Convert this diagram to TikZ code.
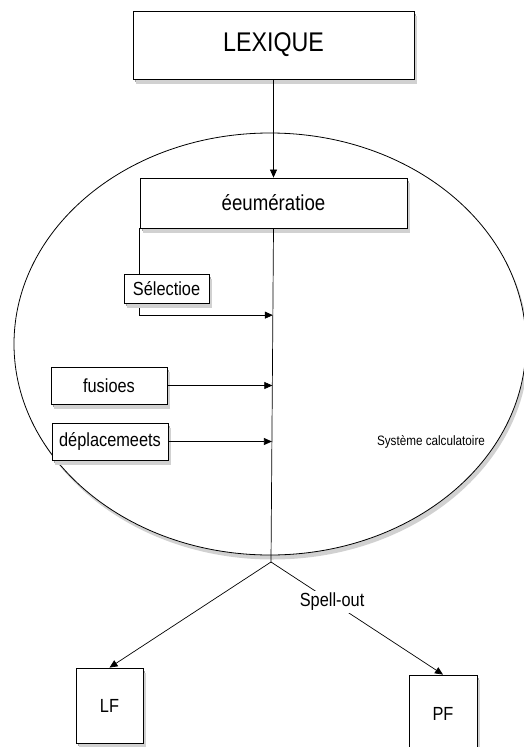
\documentclass[tikz,border=0pt]{standalone}
\usepackage{fontspec}
\setmainfont[FakeStretch=0.86]{Liberation Sans}
\usetikzlibrary{arrows.meta,shapes.geometric,shadows,calc}
\begin{document}
\begin{tikzpicture}[x=1pt,y=-1pt,
  shd/.style={general shadow={fill=black!35, shadow xshift=1.5pt, shadow yshift=-3pt},
              general shadow={fill=black!18, shadow xshift=2.5pt, shadow yshift=-4.5pt}},
  box/.style={draw, fill=white, line width=0.8pt, inner sep=0pt, shd},
  lbl/.style={font=\fontsize{19}{22}\selectfont},
  arr/.style={-{Triangle[length=8pt,width=7pt]}, line width=0.7pt},
  ln/.style={line width=0.7pt}]
\useasboundingbox (0,0) rectangle (523,747);
\node[ellipse, draw, fill=white, line width=0.8pt, inner sep=0pt, minimum width=512pt, minimum height=422pt, shd] (ell) at (270,344) {};
\node[box, minimum width=281pt, minimum height=68pt, font=\fontsize{27}{30}\selectfont] (lex) at (273.5,45) {LEXIQUE};
\node[box, minimum width=267pt, minimum height=50pt, font=\fontsize{21.7}{24}\selectfont] (enum) at (273.5,203) {éeumératioe};
\draw[arr] (lex.south) -- (enum.north);
\coordinate (junc) at (271,562);
\draw[ln] (enum.south) -- (junc);
\coordinate (t1) at ($(enum.south)!0.26!(junc)$);
\coordinate (t2) at ($(enum.south)!0.47!(junc)$);
\coordinate (t3) at ($(enum.south)!0.64!(junc)$);
\draw[arr] (enum.south west) |- (t1);
\node[box, minimum width=85pt, minimum height=29pt, lbl] (sel) at (166.5,288.5) {Sélectioe};
\node[box, minimum width=116pt, minimum height=37pt, lbl] (fus) at (109,385.5) {fusioes};
\node[box, minimum width=116pt, minimum height=37pt, lbl] (dep) at (110,441.5) {déplacemeets};
\draw[arr] (fus.east) -- (fus.east -| t2);
\draw[arr] (dep.east) -- (dep.east -| t3);
\node[font=\fontsize{13.6}{15}\selectfont] (sc) at (431,442) {Système calculatoire};
\node[box, minimum width=67pt, minimum height=75pt, lbl] (lf) at (109.5,705.5) {LF};
\node[box, minimum width=68pt, minimum height=78pt, lbl] (pf) at (443,714) {PF};
\draw[arr] (junc) -- (lf.north);
\draw[arr] (junc) -- node[pos=0.355, fill=white, inner sep=2pt, lbl] (so) {Spell-out} (pf.north);
\end{tikzpicture}
\end{document}
